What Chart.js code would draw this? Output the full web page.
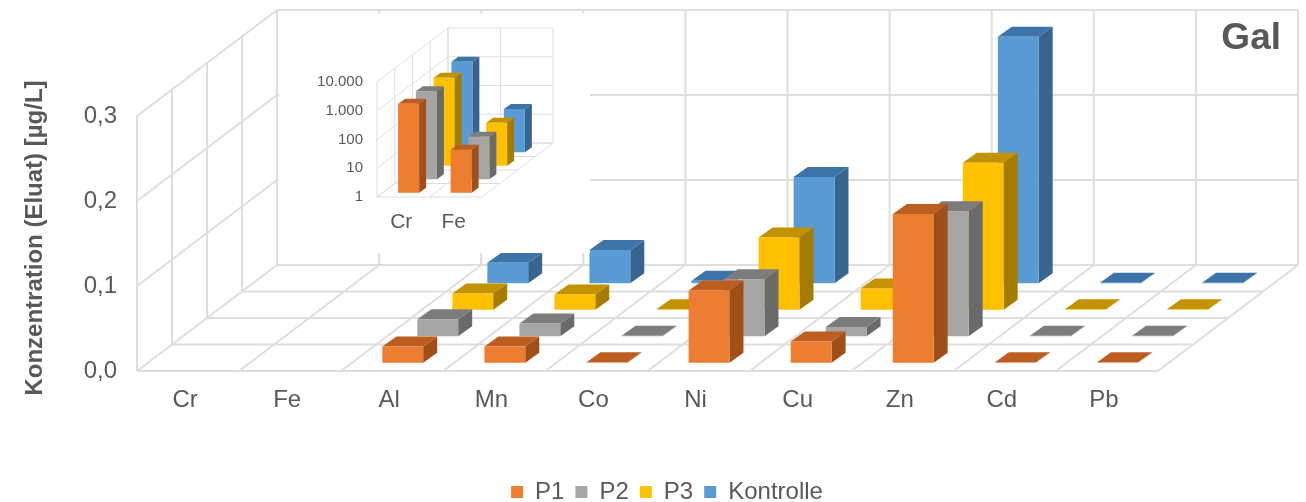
<!DOCTYPE html>
<html lang="de">
<head>
<meta charset="utf-8">
<title>Gal</title>
<script src="https://cdn.jsdelivr.net/npm/chart.js@4"></script>
<style>
  html, body { margin: 0; padding: 0; background: #fff; }
  #wrap { position: relative; width: 1306px; height: 502px; overflow: hidden; }
  #main { position: absolute; left: 0; top: 0; }
  #insetBox { position: absolute; left: 279px; top: 13px; width: 311px; height: 240px; background: #fff; }
</style>
</head>
<body>
<div id="wrap">
  <canvas id="main" width="1306" height="502"></canvas>
  <div id="insetBox"><canvas id="inset" width="311" height="240"></canvas></div>
</div>
<script>
const categories = ['Cr', 'Fe', 'Al', 'Mn', 'Co', 'Ni', 'Cu', 'Zn', 'Cd', 'Pb'];
const seriesNames = ['P1', 'P2', 'P3', 'Kontrolle'];

// Eluate concentrations in µg/L; Cr and Fe are shown on the log-scale inset
const p1 = [null, null, 0.019, 0.019, 0.0005, 0.085, 0.025, 0.175, 0.0005, 0.0005];
const p2 = [null, null, 0.020, 0.015, 0.0005, 0.067, 0.011, 0.147, 0.0005, 0.0005];
const p3 = [null, null, 0.019, 0.018, 0.0005, 0.085, 0.025, 0.173, 0.0005, 0.0005];
const kontrolle = [null, null, 0.024, 0.039, 0.003, 0.125, 0.002, 0.290, 0.0005, 0.0005];
const yTicks = [0, 0.1, 0.2, 0.3];

const insetCategories = ['Cr', 'Fe'];
const insetP1 = [1250, 31];
const insetP2 = [1140, 30];
const insetP3 = [1150, 31];
const insetKontrolle = [1400, 32];
const insetTicks = [1, 10, 100, 1000, 10000];

const frontColors = ['#ED7D31', '#A5A5A5', '#FFC000', '#5B9BD5'];
const topColors = ['#BC5E1F', '#7C7C7C', '#C29200', '#3D74A8'];
const sideColors = ['#A14F18', '#6A6A6A', '#A67C00', '#38658F'];

const textColor = '#595959';
const gridColor = '#DEDEDE';
const fontFamily = '"Liberation Sans", Arial, sans-serif';

function poly(ctx, color, pts) {
  ctx.fillStyle = color;
  ctx.beginPath();
  pts.forEach((p, i) => i ? ctx.lineTo(p[0], p[1]) : ctx.moveTo(p[0], p[1]));
  ctx.closePath();
  ctx.fill();
}

function segment(ctx, x1, y1, x2, y2) {
  ctx.moveTo(x1, y1);
  ctx.lineTo(x2, y2);
}

// Oblique 3D look: walls and floor follow the scales, each series sits in its own depth row
const bars3d = {
  id: 'bars3d',
  beforeDatasetsDraw(chart, args, o) {
    const { ctx, chartArea: a, scales: { x, y } } = chart;
    const rows = chart.data.datasets.length;
    const n = chart.data.labels.length;
    const cat = (a.right - a.left) / n;
    ctx.save();
    ctx.strokeStyle = gridColor;
    ctx.lineWidth = o.gridWidth;
    ctx.beginPath();
    y.ticks.forEach(t => {
      const py = y.getPixelForValue(t.value);
      segment(ctx, a.left, py, a.left + o.depthX, py - o.depthY);
      segment(ctx, a.left + o.depthX, py - o.depthY, a.right + o.depthX, py - o.depthY);
    });
    for (let r = 0; r <= rows; r++) {
      const dx = o.depthX * r / rows, dy = o.depthY * r / rows;
      segment(ctx, a.left + dx, a.bottom - dy, a.left + dx, a.top - dy);
      segment(ctx, a.left + dx, a.bottom - dy, a.right + dx, a.bottom - dy);
    }
    for (let c = 0; c <= n; c++) {
      const fx = a.left + cat * c;
      segment(ctx, fx, a.bottom, fx + o.depthX, a.bottom - o.depthY);
      segment(ctx, fx + o.depthX, a.bottom - o.depthY, fx + o.depthX, a.top - o.depthY);
    }
    ctx.stroke();
    ctx.restore();
  },
  beforeDatasetDraw(chart, args, o) {
    const { ctx } = chart;
    const rows = chart.data.datasets.length;
    const r = args.index;
    const ox = o.depthX * (r + 0.5) / rows - o.barDepthX / 2;
    const oy = o.depthY * (r + 0.5) / rows - o.barDepthY / 2;
    const bx = o.barDepthX, by = o.barDepthY;
    args.meta.data.forEach((el, i) => {
      const v = chart.data.datasets[r].data[i];
      if (v === null || v === undefined) return;
      const p = el.getProps(['x', 'y', 'base', 'width'], true);
      const l = p.x - p.width / 2 + ox, w = p.width;
      const top = p.y - oy, bot = p.base - oy;
      poly(ctx, sideColors[r], [[l + w, top], [l + w + bx, top - by], [l + w + bx, bot - by], [l + w, bot]]);
      poly(ctx, topColors[r], [[l, top], [l + bx, top - by], [l + w + bx, top - by], [l + w, top]]);
      poly(ctx, frontColors[r], [[l, top], [l + w, top], [l + w, bot], [l, bot]]);
    });
    return false;
  }
};

// Legend sits below the plot, centred on the plot including its depth
const legendPlacement = {
  id: 'legendPlacement',
  afterLayout(chart, args, o) {
    const lg = chart.legend;
    lg.left += o.shiftX; lg.right += o.shiftX;
    const h = lg.height; lg.top = o.top; lg.bottom = o.top + h;
  }
};

const chartLabels = {
  id: 'chartLabels',
  afterDraw(chart) {
    const { ctx } = chart;
    ctx.save();
    ctx.fillStyle = textColor;
    ctx.textAlign = 'center';
    ctx.textBaseline = 'middle';
    ctx.font = 'bold 24px ' + fontFamily;
    ctx.translate(35, 238);
    ctx.rotate(-Math.PI / 2);
    ctx.fillText('Konzentration (Eluat) [µg/L]', 0, 0);
    ctx.restore();
    ctx.save();
    ctx.fillStyle = textColor;
    ctx.textAlign = 'right';
    ctx.textBaseline = 'middle';
    ctx.font = 'bold 37px ' + fontFamily;
    ctx.fillText('Gal', 1281, 39);
    ctx.restore();
  }
};

function makeDatasets(values) {
  return values.map((data, i) => ({
    label: seriesNames[i],
    data,
    backgroundColor: frontColors[i],
    borderWidth: 0,
    categoryPercentage: 1,
    barPercentage: 0.4,
    grouped: false
  }));
}

function fixedTicks(list) {
  return scale => { scale.ticks = list.map(value => ({ value })); };
}

new Chart(document.getElementById('main'), {
  type: 'bar',
  data: { labels: categories, datasets: makeDatasets([p1, p2, p3, kontrolle]) },
  plugins: [bars3d, legendPlacement, chartLabels],
  options: {
    responsive: false,
    animation: false,
    layout: { padding: { left: 20, right: 148, top: 116, bottom: 0 } },
    scales: {
      x: {
        grid: { display: false, drawTicks: false },
        border: { display: false },
        afterFit: s => { s.height = 86; },
        ticks: { padding: 15, labelOffset: -3, color: textColor, font: { size: 24, family: fontFamily }, maxRotation: 0, autoSkip: false }
      },
      y: {
        min: 0, max: 0.3,
        afterBuildTicks: fixedTicks(yTicks),
        afterFit: s => { s.width = 117; },
        grid: { display: false, drawTicks: false },
        border: { display: false },
        ticks: { padding: 20, color: textColor, font: { size: 24, family: fontFamily }, callback: v => v.toFixed(1).replace('.', ',') }
      }
    },
    plugins: {
      bars3d: { depthX: 140, depthY: 106, barDepthX: 14, barDepthY: 10, gridWidth: 2 },
      legendPlacement: { shiftX: 78, top: 469 },
      legend: {
        position: 'bottom',
        labels: { boxWidth: 12, boxHeight: 12, padding: 11, color: textColor, font: { size: 24, family: fontFamily } }
      },
      tooltip: { enabled: false }
    }
  }
});

new Chart(document.getElementById('inset'), {
  type: 'bar',
  data: { labels: insetCategories, datasets: makeDatasets([insetP1, insetP2, insetP3, insetKontrolle]) },
  plugins: [bars3d],
  options: {
    responsive: false,
    animation: false,
    layout: { padding: { left: 0, right: 108, top: 69, bottom: 0 } },
    scales: {
      x: {
        grid: { display: false, drawTicks: false },
        border: { display: false },
        afterFit: s => { s.height = 56; },
        ticks: { padding: 13, labelOffset: -2, color: textColor, font: { size: 21, family: fontFamily }, maxRotation: 0, autoSkip: false }
      },
      y: {
        type: 'logarithmic',
        min: 1, max: 10000,
        afterBuildTicks: fixedTicks(insetTicks),
        afterFit: s => { s.width = 98; },
        grid: { display: false, drawTicks: false },
        border: { display: false },
        ticks: { padding: 14, color: textColor, font: { size: 15, family: fontFamily }, autoSkip: false, callback: v => v.toLocaleString('de-DE') }
      }
    },
    plugins: {
      bars3d: { depthX: 71, depthY: 54, barDepthX: 7, barDepthY: 5, gridWidth: 1 },
      legend: { display: false },
      tooltip: { enabled: false }
    }
  }
});
</script>
</body>
</html>
